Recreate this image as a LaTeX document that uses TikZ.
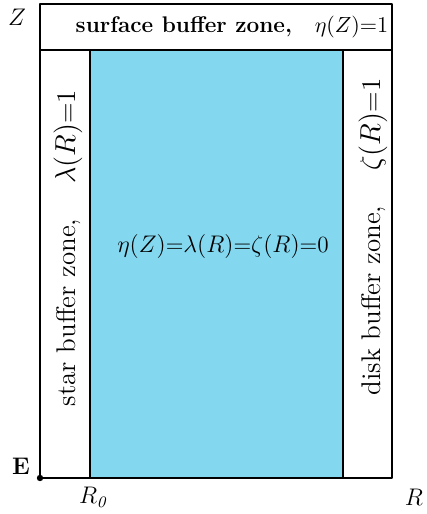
\documentclass[tikz,border=0pt]{standalone}
\usepackage{amsmath,amssymb}
\usepackage{xcolor}
\usepackage{tikz}

\definecolor{corecolor}{RGB}{131,216,240}

\begin{document}
\begin{tikzpicture}[x=0.5pt,y=-0.5pt, line cap=round, line join=round]
    \useasboundingbox (0,0) rectangle (427,514);

    % Zones
    \fill[corecolor] (90,50) rectangle (343,478);
    \draw[line width=0.6pt] (90,50) rectangle (343,478);
    \draw[line width=0.6pt] (40,478) -- (40,4) -- (392,4) -- (392,478) -- cycle;
    \draw[line width=0.6pt] (40,50) -- (392,50);

    % Origin
    \coordinate (E) at (40,478);
    \fill (E) circle (3.2);

    % Axis labels
    \node[font=\large] (lblZ) at (17,17) {$Z$};
    \node[anchor=east, font=\large\bfseries] (lblE) at (37,466) {E};
    \node[font=\large] (lblRo) at (94,497) {$R_{\mathit{0}}$};
    \node[font=\large] (lblR) at (414,497) {$R$};

    % Zone labels
    \node[font=\fontsize{11.3}{13}\selectfont] (surf) at (232,27)
        {\textbf{surface buffer zone,}\quad$\eta(Z)$=1};
    \node[rotate=90, font=\fontsize{13.5}{16}\selectfont] (star) at (68,248)
        {star buffer zone,\hspace{1.3em}$\lambda(R)$=1};
    \node[rotate=90, font=\fontsize{13.5}{16}\selectfont] (disk) at (373,237)
        {disk buffer zone,\hspace{1.3em}$\zeta(R)$=1};
    \node[font=\fontsize{11.6}{14}\selectfont] (core) at (223,246)
        {$\eta(Z)$=$\lambda(R)$=$\zeta(R)$=0};
\end{tikzpicture}
\end{document}
